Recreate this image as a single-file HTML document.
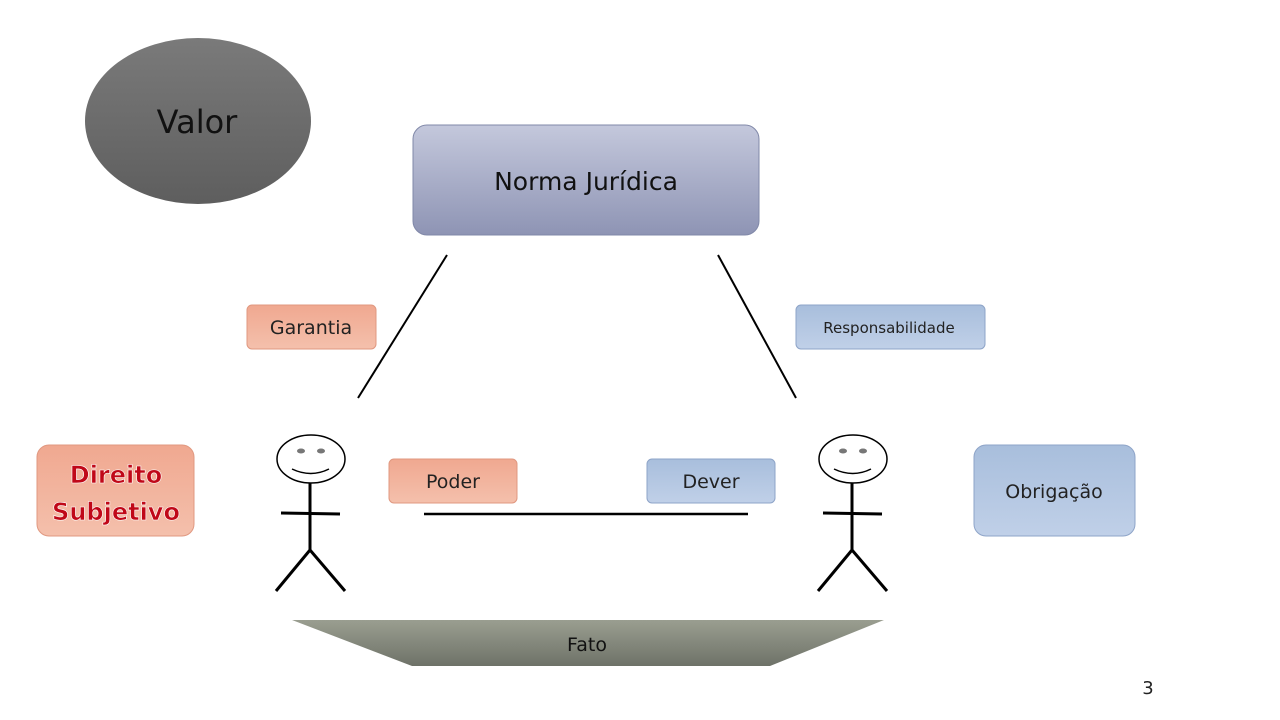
<!DOCTYPE html>
<html><head><meta charset="utf-8"><style>
html,body{margin:0;padding:0;background:#fff;width:1280px;height:720px;overflow:hidden}
svg text{font-family:"DejaVu Sans","Liberation Sans",sans-serif}
</style></head><body>
<svg width="1280" height="720" viewBox="0 0 1280 720" xmlns="http://www.w3.org/2000/svg">
<defs>
<linearGradient id="gv" x1="0" y1="0" x2="0" y2="1"><stop offset="0" stop-color="#7a7a7a"/><stop offset="1" stop-color="#5e5e5e"/></linearGradient>
<linearGradient id="gn" x1="0" y1="0" x2="0" y2="1"><stop offset="0" stop-color="#c4c8dc"/><stop offset="1" stop-color="#8e94b4"/></linearGradient>
<linearGradient id="go" x1="0" y1="0" x2="0" y2="1"><stop offset="0" stop-color="#f0a890"/><stop offset="1" stop-color="#f4c0ac"/></linearGradient>
<linearGradient id="gb" x1="0" y1="0" x2="0" y2="1"><stop offset="0" stop-color="#a8bedc"/><stop offset="1" stop-color="#c0d0e8"/></linearGradient>
<linearGradient id="gf" x1="0" y1="0" x2="0" y2="1"><stop offset="0" stop-color="#9a9e90"/><stop offset="1" stop-color="#6e7268"/></linearGradient>
</defs>
<ellipse cx="198" cy="121" rx="113" ry="83" fill="url(#gv)"/>
<text x="197" y="133" font-size="32" text-anchor="middle" fill="#111">Valor</text>
<rect x="413" y="125" width="346" height="110" rx="14" fill="url(#gn)" stroke="#8088a8"/>
<text x="586" y="190" font-size="25" text-anchor="middle" fill="#111">Norma Jurídica</text>
<line x1="447" y1="255" x2="358" y2="398" stroke="#000" stroke-width="2"/>
<line x1="718" y1="255" x2="796" y2="398" stroke="#000" stroke-width="2"/>
<line x1="424" y1="514" x2="748" y2="514" stroke="#000" stroke-width="2.5"/>
<rect x="247" y="305" width="129" height="44" rx="5" fill="url(#go)" stroke="#e09880"/>
<text x="311" y="334" font-size="19" text-anchor="middle" fill="#222">Garantia</text>
<rect x="796" y="305" width="189" height="44" rx="5" fill="url(#gb)" stroke="#8ea4c8"/>
<text x="889" y="333" font-size="15" text-anchor="middle" fill="#222">Responsabilidade</text>
<rect x="389" y="459" width="128" height="44" rx="5" fill="url(#go)" stroke="#e09880"/>
<text x="453" y="488" font-size="19" text-anchor="middle" fill="#222">Poder</text>
<rect x="647" y="459" width="128" height="44" rx="5" fill="url(#gb)" stroke="#8ea4c8"/>
<text x="711" y="488" font-size="19" text-anchor="middle" fill="#222">Dever</text>
<rect x="37" y="445" width="157" height="91" rx="12" fill="url(#go)" stroke="#e09880"/>
<text x="116" y="483" font-size="24" font-weight="bold" text-anchor="middle" fill="#c00818" stroke="#fff" stroke-width="0.6">Direito</text>
<text x="116" y="520" font-size="24" font-weight="bold" text-anchor="middle" fill="#c00818" stroke="#fff" stroke-width="0.6">Subjetivo</text>
<rect x="974" y="445" width="161" height="91" rx="12" fill="url(#gb)" stroke="#8ea4c8"/>
<text x="1054" y="498" font-size="19" text-anchor="middle" fill="#222">Obrigação</text>
<g stroke="#000" fill="none" stroke-width="3">
<ellipse cx="311" cy="459" rx="34" ry="24" stroke-width="1.5"/>
<line x1="310" y1="483" x2="310" y2="550"/>
<line x1="281" y1="513" x2="340" y2="514"/>
<line x1="310" y1="550" x2="276" y2="591"/>
<line x1="310" y1="550" x2="345" y2="591"/>
<path d="M292 469 Q311 478 329 469" stroke-width="1.5"/>
<ellipse cx="853" cy="459" rx="34" ry="24" stroke-width="1.5"/>
<line x1="852" y1="483" x2="852" y2="550"/>
<line x1="823" y1="513" x2="882" y2="514"/>
<line x1="852" y1="550" x2="818" y2="591"/>
<line x1="852" y1="550" x2="887" y2="591"/>
<path d="M834 469 Q853 478 871 469" stroke-width="1.5"/>
</g>
<g fill="#777"><ellipse cx="301" cy="451" rx="4" ry="2.5"/><ellipse cx="321" cy="451" rx="4" ry="2.5"/><ellipse cx="843" cy="451" rx="4" ry="2.5"/><ellipse cx="863" cy="451" rx="4" ry="2.5"/></g>
<polygon points="292,620 884,620 770,666 412,666" fill="url(#gf)"/>
<text x="587" y="651" font-size="19" text-anchor="middle" fill="#111">Fato</text>
<text x="1148" y="694" font-size="18" text-anchor="middle" fill="#222">3</text>
</svg>
</body></html>
